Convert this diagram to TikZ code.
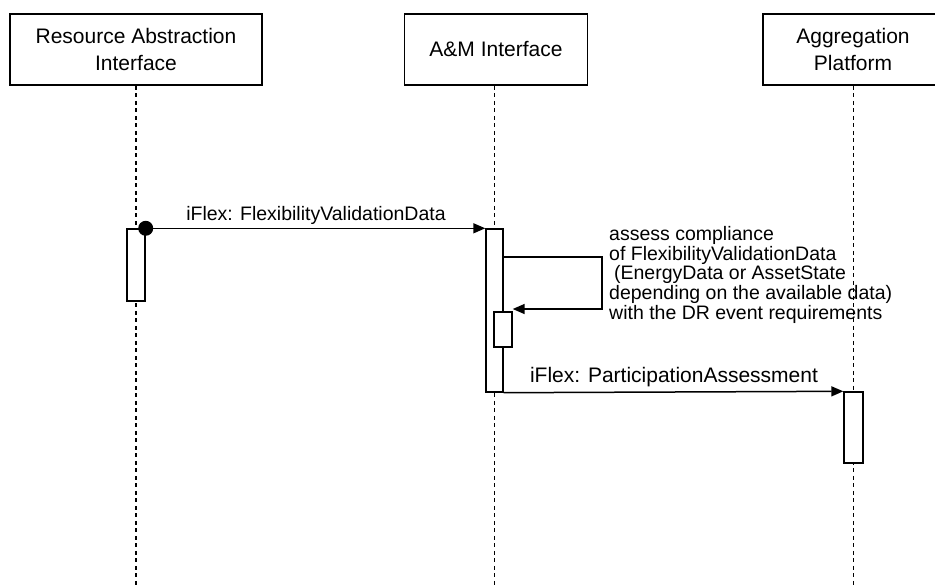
\documentclass[tikz,border=0pt]{standalone}
\usepackage{fontspec}
\setmainfont{Liberation Sans}
\usetikzlibrary{arrows.meta}
\begin{document}
\begin{tikzpicture}[x=1pt,y=-1pt,
  actor/.style={draw, line width=1.6pt, fill=white, minimum height=71pt, align=center,
    inner sep=0pt, font=\fontsize{21}{27}\selectfont},
  lifeline/.style={line width=1.2pt, dash pattern=on 4pt off 3.5pt},
  actbox/.style={draw, line width=1.4pt, fill=white, inner sep=0pt},
  msg/.style={line width=1.5pt, -{Triangle[length=12pt,width=10pt]}},
  msglabel/.style={inner sep=0pt, font=\fontsize{19.5}{19.75}\selectfont}]
\useasboundingbox (0,0) rectangle (935,587);
\begin{scope}
\clip (0,0) rectangle (935,587);
% actors
\node[actor, minimum width=252pt] (rai) at (136,49.5) {Resource Abstraction\\Interface};
\node[actor, minimum width=183pt] (am) at (496,49.5) {A\&M Interface};
\node[actor, minimum width=180pt] (ap) at (853,49.5) {Aggregation\\Platform};
% lifeline ends
\coordinate (raiend) at (136,587);
\coordinate (amend) at (494.5,587);
\coordinate (apend) at (853.5,587);
\draw[lifeline] (rai.south -| raiend) -- (raiend);
\draw[lifeline] (am.south -| amend) -- (amend);
\draw[lifeline] (ap.south -| apend) -- (apend);
% activations
\node[actbox, minimum width=18pt, minimum height=72pt] (a1) at (136,265) {};
\node[actbox, minimum width=17pt, minimum height=163pt] (a2) at (494.5,310.5) {};
\node[actbox, minimum width=18pt, minimum height=35pt] (a2s) at (503,329.5) {};
\node[actbox, minimum width=19pt, minimum height=71pt] (a3) at (853.5,427.5) {};
% message 1
\node[circle, fill, inner sep=0pt, minimum size=15pt] (dot) at (a1.north east) {};
\draw[msg] (dot.center) -- (a2.north west);
\node[msglabel, anchor=base] (m1) at (316,220) {iFlex: FlexibilityValidationData};
% self message
\coordinate (s1) at (602,257);
\coordinate (s2) at (602,309);
\draw[msg] (a2.east |- s1) -- (s1) -- (s2) -- (a2s.east |- s2);
\node[msglabel, anchor=north west, align=left] (sl) at (609,226)
  {assess compliance\\of FlexibilityValidationData\\\hspace*{0.25em}(EnergyData or AssetState\\depending on the available data)\\with the DR event requirements};
% message 2
\draw[msg] (a2.south east) -- (a3.north west);
\node[msglabel, anchor=base, font=\fontsize{21}{22}\selectfont] (m2) at (674,382) {iFlex: ParticipationAssessment};
\end{scope}
\end{tikzpicture}
\end{document}
